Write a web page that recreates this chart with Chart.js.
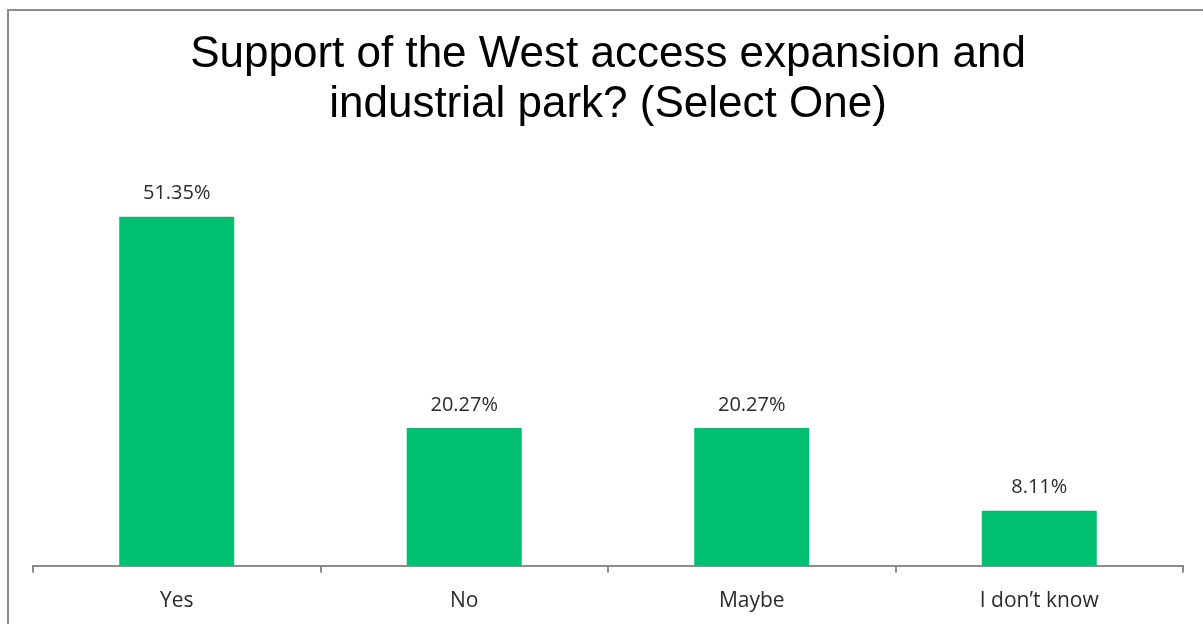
<!DOCTYPE html>
<html>
<head>
<meta charset="utf-8">
<script src="https://cdn.jsdelivr.net/npm/chart.js@4/dist/chart.umd.min.js"></script>
<style>
  html, body { margin: 0; padding: 0; background: #fff; overflow: hidden; }
  #wrap { width: 1203px; height: 624px; position: relative; }
</style>
</head>
<body>
<div id="wrap"><canvas id="grafico"></canvas></div>
<script>
const respostas = ['Yes', 'No', 'Maybe', 'I don\u2019t know'];
const percentuais = [51.35, 20.27, 20.27, 8.11];
const titulo = ['Support of the West access expansion and', 'industrial park? (Select One)'];

const corBarra = '#00BF6F';
const fonteTexto = '"Open Sans", "Liberation Sans", sans-serif';

// moldura cinza do gráfico (cortada à direita e embaixo, como no original)
const moldura = {
    id: 'moldura',
    beforeDraw(chart) {
        const ctx = chart.ctx;
        ctx.save();
        ctx.strokeStyle = '#8c8c8c';
        ctx.lineWidth = 2;
        ctx.strokeRect(8, 10, 1300, 700);
        ctx.restore();
    }
};

// rótulos de valor acima das barras
const rotulos = {
    id: 'rotulos',
    afterDatasetsDraw(chart) {
        const ctx = chart.ctx;
        const meta = chart.getDatasetMeta(0);
        ctx.save();
        ctx.font = '20px ' + fonteTexto;
        ctx.fillStyle = '#2b2b2b';
        ctx.textAlign = 'center';
        ctx.textBaseline = 'middle';
        meta.data.forEach((barra, i) => {
            ctx.fillText(percentuais[i].toFixed(2) + '%', barra.x, barra.y - 23);
        });
        ctx.restore();
    }
};

new Chart(document.getElementById('grafico'), {
    type: 'bar',
    data: {
        labels: respostas,
        datasets: [{
            data: percentuais,
            backgroundColor: corBarra,
            borderWidth: 0,
            barPercentage: 0.8,
            categoryPercentage: 0.5
        }]
    },
    options: {
        responsive: true,
        maintainAspectRatio: false,
        animation: false,
        layout: { padding: { left: 33, right: 20, top: 0, bottom: -6 } },
        scales: {
            x: {
                offset: true,
                border: { display: true, color: '#8c8c8c', width: 2 },
                grid: { display: true, offset: true, drawOnChartArea: false, drawTicks: true, tickLength: 7, color: '#8c8c8c', lineWidth: 2 },
                ticks: { color: '#2b2b2b', font: { family: fonteTexto, size: 21 }, padding: 16 }
            },
            y: {
                display: false,
                min: 0,
                max: 60
            }
        },
        plugins: {
            legend: { display: false },
            tooltip: { enabled: false },
            title: {
                display: true,
                text: titulo,
                color: '#000000',
                font: { family: '"Liberation Sans", Arial, sans-serif', size: 44, weight: 'normal', lineHeight: 1.136 },
                padding: { top: 30, bottom: 28 }
            }
        }
    },
    plugins: [moldura, rotulos]
});
</script>
</body>
</html>
